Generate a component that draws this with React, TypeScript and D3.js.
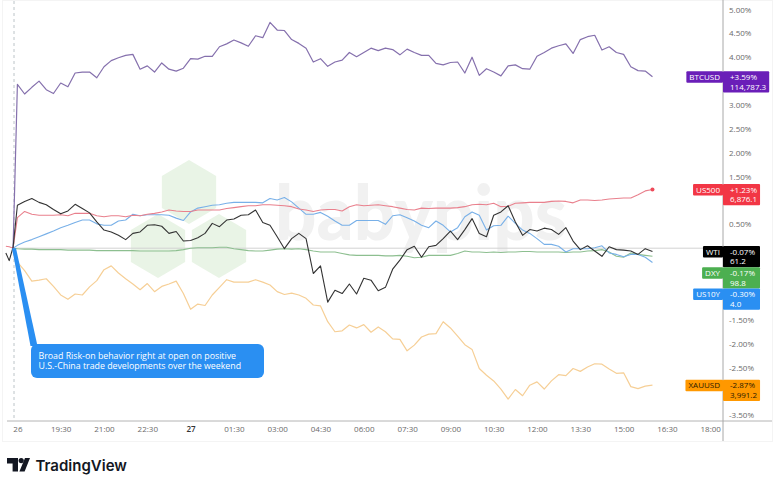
import { useEffect, useRef } from "react";
import * as d3 from "d3";

// ── Data (percent change since the weekly open, one value every 15 minutes) ───

const LEAD_MINUTES = [-24, -17, -9];
const BAR_MINUTES = d3.range(0, 1335, 15);

const BTC = [3.43,3.23,3.37,3.50,3.32,3.24,3.46,3.38,3.67,3.69,3.69,3.57,3.80,3.93,3.99,4.04,4.06,3.75,3.82,3.69,3.88,3.75,3.71,3.77,3.97,3.96,4.02,4.02,4.22,4.28,4.36,4.30,4.23,4.45,4.41,4.73,4.57,4.56,4.37,4.29,4.19,3.90,3.97,3.81,3.90,3.94,4.10,4.01,4.10,4.19,4.14,4.19,4.16,4.05,4.17,4.10,4.04,4.04,3.87,3.84,3.89,3.90,3.67,4.00,3.62,3.76,3.69,3.61,3.82,3.84,3.76,3.75,4.02,4.10,4.19,4.24,4.28,4.08,4.37,4.43,4.46,4.15,4.22,4.10,4.06,3.80,3.72,3.71,3.59];
const US500 = [.64,.77,.71,.69,.69,.69,.70,.68,.73,.73,.73,.68,.66,.68,.68,.66,.69,.68,.71,.73,.76,.80,.78,.77,.77,.80,.80,.80,.80,.83,.85,.87,.89,.89,.91,.91,.90,.89,.87,.82,.80,.77,.80,.81,.81,.78,.87,.91,.89,.90,.91,.89,.87,.84,.81,.80,.84,.83,.84,.84,.84,.85,.87,.91,.92,.91,.94,.87,.88,.94,.95,.96,.96,.96,.98,.99,.98,.95,1.01,1.01,1.00,1.01,1.03,1.04,1.05,1.05,1.12,1.20,1.23];
const WTI = [.90,.98,1.04,.96,.91,.81,.72,.78,.92,.83,.74,.55,.38,.34,.27,.18,.31,.34,.48,.49,.46,.31,.35,.15,.16,.22,.31,.52,.45,.59,.61,.69,.70,.80,.54,.48,.24,-.01,.20,.31,.20,-.53,-.37,-1.13,-.88,-.95,-.75,-.96,-.63,-.67,-.89,-.82,-.44,-.25,-.03,.04,-.19,.03,.06,.20,.36,.18,.39,.62,.31,.24,.69,.76,.89,.55,.27,.39,.36,.42,.39,.29,.43,.15,-.03,.05,-.06,-.17,.03,-.03,-.04,-.06,-.13,-.01,-.07];
const US10Y = [.06,.13,.18,.24,.30,.36,.43,.48,.54,.59,.59,.51,.48,.48,.57,.59,.71,.68,.70,.70,.70,.69,.63,.58,.76,.84,.87,.90,.91,.94,.96,.96,.96,.96,.95,1.04,1.01,1.06,.97,.84,.71,.71,.75,.67,.57,.48,.48,.58,.58,.58,.58,.50,.68,.70,.64,.57,.48,.43,.57,.48,.34,.43,.66,.76,.69,.38,.47,.48,.67,.52,.38,.31,.20,.08,.08,.04,-.08,-.01,-.01,-.01,.01,.05,-.10,-.13,-.18,-.13,-.13,-.19,-.30];
const DXY = [-.01,-.02,-.02,-.03,-.03,-.03,-.03,-.04,-.04,-.04,-.04,-.05,-.05,-.05,-.05,-.05,-.05,-.06,-.06,-.06,-.06,-.06,-.05,-.03,0,.01,.01,.01,.02,.02,-.01,-.03,-.05,-.06,-.06,-.04,-.02,-.01,-.02,-.01,-.03,-.06,-.08,-.08,-.08,-.11,-.14,-.15,-.15,-.15,-.15,-.16,-.16,-.15,-.17,-.20,-.19,-.15,-.15,-.15,-.15,-.11,-.06,-.08,-.08,-.09,-.08,-.09,-.08,-.08,-.07,-.07,-.08,-.08,-.08,-.08,-.09,-.08,-.08,-.06,-.05,-.03,-.08,-.17,-.19,-.10,-.13,-.15,-.17];
const XAU = [-.29,-.47,-.69,-.67,-.64,-.80,-.98,-1.07,-.96,-.98,-.81,-.68,-.45,-.37,-.52,-.64,-.75,-.87,-.74,-.91,-.80,-.75,-.69,-.95,-1.28,-1.17,-1.20,-.98,-.82,-.66,-.71,-.71,-.71,-.66,-.71,-.77,-.91,-.97,-.94,-.98,-1.05,-1.19,-1.21,-1.54,-1.75,-1.73,-1.61,-1.67,-1.60,-1.76,-1.65,-1.75,-1.90,-1.91,-2.15,-2.03,-1.86,-1.80,-1.79,-1.54,-1.67,-1.84,-2.02,-2.12,-2.52,-2.66,-2.78,-2.95,-3.16,-2.96,-3.09,-2.87,-2.80,-2.95,-2.78,-2.65,-2.67,-2.52,-2.58,-2.49,-2.42,-2.43,-2.53,-2.62,-2.61,-2.90,-2.94,-2.89,-2.87];

const WTI_LEAD = [-.10,-.26,.02];
const US500_LEAD = [.04,.03,0];
const OPEN_LEAD = [null,null,0];

const X_TICKS = [0,90,180,270,360,450,540,630,720,810,900,990,1080,1170,1260,1350,1440];
const X_LABELS = ["26","19:30","21:00","22:30","27","01:30","03:00","04:30","06:00","07:30","09:00","10:30","12:00","13:30","15:00","16:30","18:00"];
const Y_TICKS = [5,4.5,4,3,2.5,2,1.5,.5,-1.5,-2,-2.5,-3.5];

const TAG_NAMES = ["BTCUSD","US500","WTI","DXY","US10Y","XAUUSD"];
const TAG_CHANGES = ["+3.59%","+1.23%","-0.07%","-0.17%","-0.30%","-2.87%"];
const TAG_PRICES = ["114,787.3","6,876.1","61.2","98.8","4.0","3,991.2"];
const TAG_COLORS = ["#6a1eb8","#f23645","#000000","#4caf50","#2a8ff2","#ff9800"];
const TAG_TEXT = ["#fff","#fff","#fff","#fff","#fff","#2a1a00"];

const NOTE_LINES = [
  "Broad Risk-on behavior right at open on positive",
  "U.S.-China trade developments over the weekend",
];

const W = 780, H = 487;
const AXIS_X = 723, AXIS_Y = 421;
const SANS = "'Open Sans', 'Noto Sans', sans-serif";
const MUTED = "#6a6a6a";
const BLUE = "#2a8ff2";

const LINES = [
  { values: [...OPEN_LEAD, ...DXY], color: "#8dbf90", width: 1.1 },
  { values: [...OPEN_LEAD, ...US10Y], color: "#78b0e8", width: 1.1 },
  { values: [...US500_LEAD, ...US500], color: "#e9808d", width: 1.1 },
  { values: [...OPEN_LEAD, ...XAU], color: "#f6cf96", width: 1.2 },
  { values: [...OPEN_LEAD, ...BTC], color: "#8570ad", width: 1.2 },
  { values: [...WTI_LEAD, ...WTI], color: "#333333", width: 1.1 },
];

export default function App() {
  const svgRef = useRef<SVGSVGElement>(null);

  useEffect(() => {
    if (!svgRef.current) return;
    const svg = d3.select(svgRef.current);
    svg.selectAll("*").remove();

    const x = d3.scaleLinear().domain([0, 1440]).range([17.4, 710.2]);
    const y = d3.scaleLinear().domain([0, 5]).range([248.2, 9.5]);
    const minutes = [...LEAD_MINUTES, ...BAR_MINUTES];

    svg.append("rect")
      .attr("x", 2.5).attr("y", 0.5).attr("width", 770).attr("height", 441)
      .attr("fill", "#fff").attr("stroke", "#f4f4f4");

    // Watermark
    const hex = d3.line<[number, number]>();
    const hexPath = (cx: number, cy: number) => {
      const r = 32;
      return hex(d3.range(6).map(i => {
        const a = Math.PI / 3 * i;
        return [cx + r * Math.sin(a) * 0.98, cy - r * Math.cos(a)] as [number, number];
      })) + "Z";
    };
    svg.append("g").attr("fill", "#e9f4e6")
      .selectAll("path")
      .data([[189, 192], [158, 246], [219, 246]])
      .join("path")
      .attr("d", d => hexPath(d[0], d[1]));
    svg.append("text")
      .attr("x", 275).attr("y", 240)
      .attr("textLength", 292).attr("lengthAdjust", "spacingAndGlyphs")
      .attr("font-family", "Lato, sans-serif").attr("font-weight", 900)
      .attr("font-size", 76).attr("fill", "#f1f1f1")
      .text("babypips");

    // Session break and zero line
    svg.append("line")
      .attr("x1", 14).attr("x2", 14).attr("y1", 1).attr("y2", AXIS_Y)
      .attr("stroke", "#bcc4c8").attr("stroke-dasharray", "3,3");
    svg.append("line")
      .attr("x1", 13).attr("x2", AXIS_X).attr("y1", y(0)).attr("y2", y(0))
      .attr("stroke", "#d2d2d2");

    // Series
    const line = d3.line<number | null>()
      .defined(d => d !== null)
      .x((_, i) => x(minutes[i]))
      .y(d => y(d as number));
    svg.append("g").attr("fill", "none").attr("stroke-linejoin", "round")
      .selectAll("path")
      .data(LINES)
      .join("path")
      .attr("d", d => line(d.values))
      .attr("stroke", d => d.color)
      .attr("stroke-width", d => d.width);

    svg.append("circle")
      .attr("cx", x(BAR_MINUTES[BAR_MINUTES.length - 1]))
      .attr("cy", y(US500[US500.length - 1]))
      .attr("r", 2).attr("fill", "#ee4a5a");

    // Callout
    svg.append("path")
      .attr("d", d3.line()([[12, y(0)], [16, y(0)], [37.5, 346], [30.5, 346]]) + "Z")
      .attr("fill", BLUE);
    svg.append("rect")
      .attr("x", 31).attr("y", 344).attr("width", 233).attr("height", 34).attr("rx", 6)
      .attr("fill", BLUE);
    svg.append("text")
      .attr("fill", "#fff").attr("font-size", 8.8).attr("font-family", SANS)
      .selectAll("tspan")
      .data(NOTE_LINES)
      .join("tspan")
      .attr("x", 38.5)
      .attr("y", (_, i) => 359 + i * 10)
      .text(d => d);

    // Axes
    const xAxis = d3.axisBottom(x)
      .tickValues(X_TICKS)
      .tickSize(0)
      .tickPadding(5)
      .tickFormat((_, i) => X_LABELS[i]);
    svg.append("g")
      .attr("transform", `translate(0,${AXIS_Y})`)
      .call(xAxis)
      .call(g => g.select(".domain").remove())
      .call(g => g.selectAll("text")
        .attr("fill", (_, i) => (X_LABELS[i] === "27" ? "#333" : MUTED))
        .attr("font-size", "8px")
        .attr("font-family", SANS)
        .attr("font-weight", (_, i) => (X_LABELS[i] === "27" ? 600 : 400)));

    const yAxis = d3.axisRight(y)
      .tickValues(Y_TICKS)
      .tickSize(0)
      .tickPadding(6)
      .tickFormat(d => `${(+d).toFixed(2)}%`);
    svg.append("g")
      .attr("transform", `translate(${AXIS_X},0)`)
      .call(yAxis)
      .call(g => g.select(".domain").remove())
      .call(g => g.selectAll("text")
        .attr("fill", MUTED)
        .attr("font-size", "8px")
        .attr("font-family", SANS));

    svg.append("line")
      .attr("x1", 7).attr("x2", 772).attr("y1", AXIS_Y).attr("y2", AXIS_Y)
      .attr("stroke", "#b4b4b4");
    svg.append("line")
      .attr("x1", AXIS_X).attr("x2", AXIS_X).attr("y1", 0).attr("y2", 441)
      .attr("stroke", "#a8a8a8");

    // Last value tags, pushed down where they would overlap
    const lasts = [BTC, US500, WTI, DXY, US10Y, XAU].map(s => s[s.length - 1]);
    let floor = -Infinity;
    lasts.forEach((v, i) => {
      const top = Math.max(y(v) - 5.5, floor);
      floor = top + 21.2;
      const tag = svg.append("g").attr("font-family", SANS).attr("font-size", 8);
      const nameBg = tag.append("rect").attr("y", top).attr("height", 11.5).attr("rx", 1).attr("fill", TAG_COLORS[i]);
      const valueBg = tag.append("rect").attr("x", AXIS_X).attr("y", top).attr("height", 21.2).attr("rx", 1).attr("fill", TAG_COLORS[i]);
      const name = tag.append("text").attr("x", AXIS_X - 3).attr("y", top + 8.6)
        .attr("text-anchor", "end").attr("fill", TAG_TEXT[i]).text(TAG_NAMES[i]);
      const change = tag.append("text").attr("x", AXIS_X + 7).attr("y", top + 8.6)
        .attr("fill", TAG_TEXT[i]).text(TAG_CHANGES[i]);
      const price = tag.append("text").attr("x", AXIS_X + 7).attr("y", top + 18.4)
        .attr("fill", TAG_TEXT[i]).text(TAG_PRICES[i]);
      const nameW = (name.node() as SVGTextElement).getComputedTextLength();
      const valueW = Math.max(
        (change.node() as SVGTextElement).getComputedTextLength(),
        (price.node() as SVGTextElement).getComputedTextLength(),
      );
      nameBg.attr("x", AXIS_X - nameW - 6).attr("width", nameW + 6);
      valueBg.attr("width", Math.max(37, valueW + 10));
    });

    // TradingView mark
    const logo = svg.append("g").attr("fill", "#131722");
    logo.append("path").attr("d", "M7 458H18V471.5H12.6V463.4H7Z");
    logo.append("circle").attr("cx", 21.2).attr("cy", 460.6).attr("r", 2.6);
    logo.append("path").attr("d", "M25 458H30L24.6 471.5H19.4Z");
    logo.append("text")
      .attr("x", 35.5).attr("y", 470.5)
      .attr("font-family", "Inter, sans-serif").attr("font-weight", 600)
      .attr("font-size", 15).attr("fill", "#131722")
      .text("TradingView");
  }, []);

  return (
    <svg
      ref={svgRef}
      width={W}
      height={H}
      viewBox={`0 0 ${W} ${H}`}
      style={{ position: "absolute", left: 0, top: 0, display: "block", background: "#fff" }}
    />
  );
}
